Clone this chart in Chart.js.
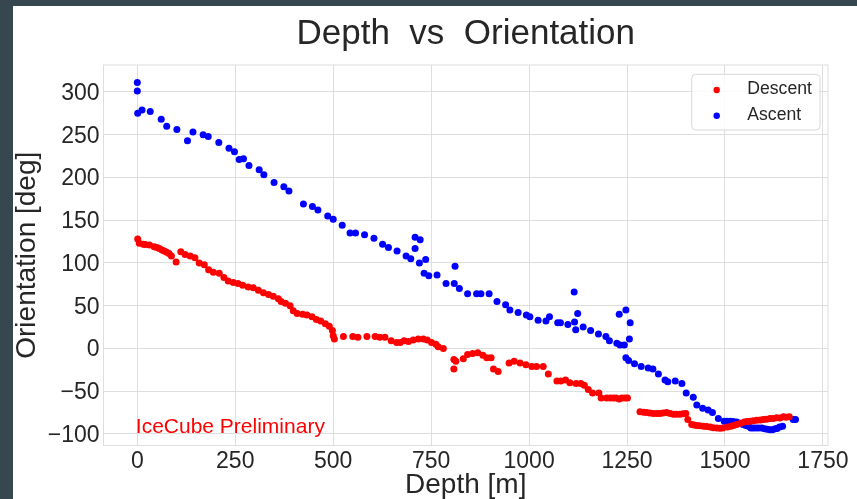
<!DOCTYPE html>
<html><head><meta charset="utf-8">
<script src="https://cdn.jsdelivr.net/npm/chart.js@4"></script>
<style>
html,body{margin:0;padding:0;background:#37474f;width:857px;height:499px;overflow:hidden}
#wrap{position:absolute;left:13px;top:6px;width:844px;height:493px;background:#fff}
canvas{display:block}
</style></head><body><div id="wrap"><canvas id="c" width="844" height="493"></canvas></div>
<script>
const chartTitle = 'Depth  vs  Orientation';
const xLabel = 'Depth [m]';
const yLabel = 'Orientation [deg]';
const watermark = 'IceCube Preliminary';
const seriesNames = ['Descent', 'Ascent'];

const descentDepth = [1,5,15,20,31,43,50,56,63,69,75,81,87,99,111,122,135,147,158,171,182,194,209,221,232,245,257,269,283,296,309,322,335,347,360,367,378,390,398,408,422,433,446,457,468,480,490,498,500,503,526,550,563,586,607,619,632,648,662,671,681,692,704,717,730,740,751,762,768,781,808,808,813,832,843,856,869,882,892,903,909,921,949,962,977,992,1007,1019,1036,1049,1071,1081,1093,1104,1120,1132,1141,1151,1162,1178,1184,1198,1207,1215,1222,1230,1237,1245,1251,1283,1292,1300,1308,1317,1326,1334,1342,1351,1360,1368,1376,1385,1393,1400,1405,1415,1421,1428,1436,1445,1453,1462,1470,1479,1487,1494,1506,1515,1522,1530,1540,1549,1556,1564,1572,1581,1590,1598,1606,1615,1623,1632,1640,1649,1656,1664];
const descentOrient = [128,123,122,121.5,121,119,118,117,115,114,112.5,111,108,101,113,110,108,106,100,98,92,89,88,83,79,77,76,74,72,71,68,65,63,61,58,55,53,50,44,41,40,39,37,34,32,29,26,21,15,11,14,14,13,14,14,13,13,9,7,7,9,8,10,11,11,10,7,5,2,0,-13,-24,-15,-12,-7,-6,-5,-8,-11,-11,-24,-27,-17,-15,-17,-19,-21,-21,-21,-30,-38,-38,-37,-40,-41,-41,-43,-48,-52,-52,-58,-58,-58,-58,-58,-59,-58,-58,-58,-74,-74.5,-75,-75.5,-76,-76,-76,-75.5,-75,-76,-77,-77,-77,-76.5,-76,-83,-89,-89.6,-90,-90.4,-91,-91.4,-92,-92.6,-93,-93.2,-93,-92,-91,-90,-89,-87.5,-86,-85.5,-85,-84.6,-84,-83.8,-83,-82.8,-82,-81.8,-81,-81.2,-80,-80.5,-80];

const ascentDepth = [0,0,1,12,33,61,75,101,128,142,168,181,208,234,248,260,271,285,311,323,349,374,387,424,447,461,486,500,523,543,557,580,604,626,641,663,686,698,709,722,709,720,736,732,744,765,788,811,809,822,843,866,877,898,918,940,951,972,993,1002,1023,1043,1052,1073,1080,1099,1115,1124,1116,1119,1138,1157,1177,1196,1205,1224,1232,1243,1230,1247,1258,1256,1247,1254,1269,1286,1304,1316,1330,1347,1354,1373,1390,1401,1419,1428,1443,1457,1468,1483,1498,1505,1513,1521,1530,1538,1546,1553,1560,1566,1572,1579,1586,1594,1601,1608,1615,1621,1628,1633,1639,1647,1674,1680];
const ascentOrient = [311,301,275,279,277,268,260,256,243,253,250,248,241,234,230,221,222,214,209,203,194,189,184,169,166,162,155,151,144,135,135,133,129,122,118,114,108,105,130,127,117,100,104,88,85,86,76,96,76,70,64,64,64,64,55,51,45,42,39,37,33,32,37,30,30,28,66,41,31,22,25,21,17,14,9,6,4,4,40,45,30,11,-11,-14,-18,-21,-23,-24,-30,-37,-39,-38,-41,-52,-57,-66,-70,-72,-75,-82,-85,-85,-85,-85.5,-86,-87.5,-89,-90,-91,-93,-93,-93,-93,-93,-94,-94.5,-95,-95,-94,-93.5,-92,-91,-83,-83];

const xTickValues = [0,250,500,750,1000,1250,1500,1750];
const yTickValues = [-100,-50,0,50,100,150,200,250,300];

const pts = (xs, ys) => xs.map((x, i) => ({x: x, y: ys[i]}));
const fmt = v => (v < 0 ? '\u2212' + Math.abs(v) : String(v));
const GRID = '#dedede';
const TXT = '#262626';
const FONT = '"Liberation Sans", Arial, sans-serif';

const extras = {
  id: 'extras',
  afterDraw(chart) {
    const ctx = chart.ctx, a = chart.chartArea;
    const xs = chart.scales.x, ys = chart.scales.y;
    ctx.save();
    ctx.strokeStyle = GRID; ctx.lineWidth = 1;
    ctx.strokeRect(a.left, a.top, a.right - a.left, a.bottom - a.top);
    ctx.fillStyle = TXT;
    ctx.font = '35px ' + FONT;
    ctx.textAlign = 'center'; ctx.textBaseline = 'alphabetic';
    ctx.fillText(chartTitle, (a.left + a.right) / 2, 38);
    ctx.font = '28px ' + FONT;
    ctx.fillText(xLabel, (a.left + a.right) / 2, 486.5);
    ctx.save();
    ctx.translate(22, (a.top + a.bottom) / 2);
    ctx.rotate(-Math.PI / 2);
    ctx.fillText(yLabel, 0, 0);
    ctx.restore();
    ctx.fillStyle = '#ff0000';
    ctx.font = '21px ' + FONT;
    ctx.textAlign = 'left';
    ctx.fillText(watermark, xs.getPixelForValue(0) - 1.5, ys.getPixelForValue(-100) - 0.5);
    const bw = 128.3, bh = 55.7;
    const bx = a.right - 8 - bw, by = a.top + 9.3;
    ctx.beginPath();
    ctx.roundRect(bx, by, bw, bh, 4);
    ctx.fillStyle = 'rgba(255,255,255,0.85)';
    ctx.fill();
    ctx.strokeStyle = '#d8d8d8';
    ctx.stroke();
    ctx.font = '17.6px ' + FONT;
    chart.data.datasets.forEach((ds, i) => {
      const cy = by + 15.7 + i * 25.7;
      ctx.beginPath();
      ctx.arc(bx + 25, cy, 3.2, 0, Math.PI * 2);
      ctx.fillStyle = ds.backgroundColor;
      ctx.fill();
      ctx.fillStyle = TXT;
      ctx.textBaseline = 'alphabetic';
      ctx.fillText(ds.label, bx + 55.6, cy + 4.3);
    });
    ctx.restore();
  }
};

new Chart(document.getElementById('c'), {
  type: 'scatter',
  data: {
    datasets: [
      {label: seriesNames[0], data: pts(descentDepth, descentOrient), backgroundColor: '#ff0000', borderWidth: 0, pointRadius: 3.5, pointHoverRadius: 3.5},
      {label: seriesNames[1], data: pts(ascentDepth, ascentOrient), backgroundColor: '#0000ff', borderWidth: 0, pointRadius: 3.5, pointHoverRadius: 3.5}
    ]
  },
  options: {
    responsive: false,
    animation: false,
    devicePixelRatio: 1,
    layout: {padding: {top: 59, right: 29, left: 0, bottom: 0}},
    plugins: {legend: {display: false}, title: {display: false}, tooltip: {enabled: false}},
    scales: {
      x: {
        type: 'linear', min: -86.3, max: 1762.9,
        afterBuildTicks: s => { s.ticks = xTickValues.map(v => ({value: v})); },
        afterFit: s => { s.height = 53.5; },
        ticks: {font: {family: FONT, size: 23}, color: TXT, padding: 2, callback: v => fmt(v), maxRotation: 0, autoSkip: false},
        grid: {color: GRID, drawTicks: false, lineWidth: 1},
        border: {display: false}
      },
      y: {
        type: 'linear', min: -113.5, max: 331.5,
        afterBuildTicks: s => { s.ticks = yTickValues.map(v => ({value: v})); },
        afterFit: s => { s.width = 90.5; },
        ticks: {font: {family: FONT, size: 23}, color: TXT, padding: 4, labelOffset: 1.5, callback: v => fmt(v), autoSkip: false},
        grid: {color: GRID, drawTicks: false, lineWidth: 1},
        border: {display: false}
      }
    }
  },
  plugins: [extras]
});
</script></body></html>
